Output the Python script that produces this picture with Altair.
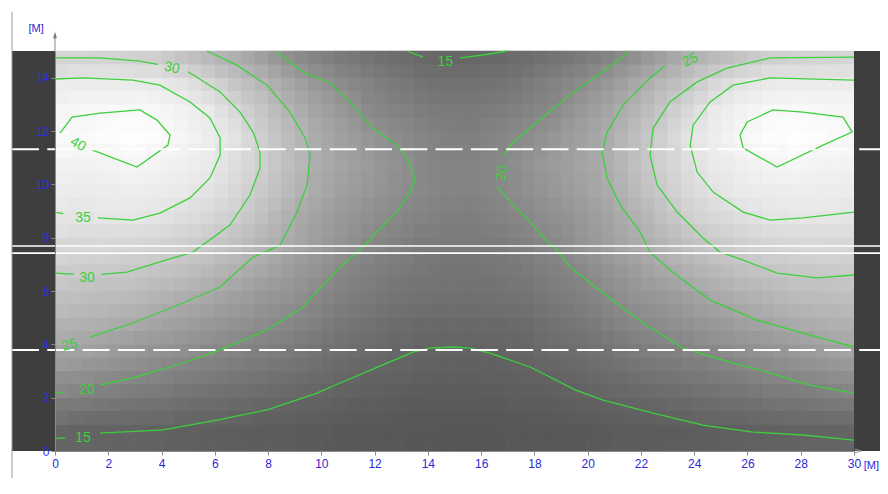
import altair as alt
import pandas as pd

# ---------------- data ----------------
# shaded field: cell values (1 m x 1 m cells, rows from y=0 upwards, columns x=0..30)
row_00 = [14.9,14.7,14.5,14.3,14.1,13.9,13.7,13.5,13.3,13.1,12.9,12.7,12.6,12.5,12.4,12.4,12.5,12.6,12.7,12.9,13.1,13.3,13.5,13.7,13.9,14.1,14.3,14.5,14.7,14.9]
row_01 = [17.8,17.4,17.1,16.8,16.4,16.0,15.6,15.2,14.8,14.4,14.0,13.7,13.4,13.2,13.1,13.1,13.2,13.4,13.7,14.0,14.4,14.8,15.2,15.6,16.0,16.4,16.8,17.1,17.4,17.8]
row_02 = [20.7,20.2,19.7,19.1,18.5,17.9,17.4,16.9,16.3,15.7,15.2,14.7,14.3,14.0,13.9,13.9,14.0,14.3,14.7,15.2,15.7,16.3,16.9,17.4,17.9,18.5,19.1,19.7,20.2,20.7]
row_03 = [23.5,22.8,22.1,21.4,20.7,19.9,19.2,18.6,17.9,17.1,16.4,15.7,15.2,14.8,14.7,14.7,14.8,15.2,15.7,16.4,17.1,17.9,18.6,19.2,19.9,20.7,21.4,22.1,22.8,23.5]
row_04 = [25.8,25.2,24.6,23.8,23.0,22.1,21.2,20.4,19.6,18.6,17.5,16.6,16.0,15.6,15.5,15.5,15.6,16.0,16.6,17.5,18.6,19.6,20.4,21.2,22.1,23.0,23.8,24.6,25.2,25.8]
row_05 = [27.8,27.5,27.0,26.3,25.3,24.3,23.2,22.2,21.1,19.9,18.7,17.8,17.1,16.7,16.5,16.5,16.7,17.1,17.8,18.7,19.9,21.1,22.2,23.2,24.3,25.3,26.3,27.0,27.5,27.8]
row_06 = [29.7,29.6,29.4,28.8,27.9,26.9,25.6,24.1,22.7,21.3,19.9,18.7,17.9,17.4,17.1,17.1,17.4,17.9,18.7,19.9,21.3,22.7,24.1,25.6,26.9,27.9,28.8,29.4,29.6,29.7]
row_07 = [31.9,32.0,31.9,31.5,30.6,29.4,27.9,26.2,24.5,22.9,21.3,19.9,18.9,18.1,17.8,17.8,18.1,18.9,19.9,21.3,22.9,24.5,26.2,27.9,29.4,30.6,31.5,31.9,32.0,31.9]
row_08 = [34.3,34.6,34.7,34.3,33.3,31.9,30.2,27.8,25.4,23.6,22.2,20.9,19.9,19.0,18.5,18.5,19.0,19.9,20.9,22.2,23.6,25.4,27.8,30.2,31.9,33.3,34.3,34.7,34.6,34.3]
row_09 = [36.3,36.6,36.9,36.7,35.6,34.0,32.0,29.5,27.0,24.8,23.3,22.0,20.8,19.8,19.1,19.1,19.8,20.8,22.0,23.3,24.8,27.0,29.5,32.0,34.0,35.6,36.7,36.9,36.6,36.3]
row_10 = [38.0,38.6,39.3,39.2,37.3,35.7,33.4,30.6,27.8,25.1,23.7,22.4,21.1,19.9,19.2,19.2,19.9,21.1,22.4,23.7,25.1,27.8,30.6,33.4,35.7,37.3,39.2,39.3,38.6,38.0]
row_11 = [40.5,41.8,42.5,41.9,39.4,36.8,34.0,30.5,27.7,25.0,23.3,21.8,20.4,19.5,18.8,18.8,19.5,20.4,21.8,23.3,25.0,27.7,30.5,34.0,36.8,39.4,41.9,42.5,41.8,40.5]
row_12 = [39.8,40.6,41.0,40.5,38.2,35.7,32.3,29.0,26.2,24.0,22.3,20.2,19.1,18.4,17.9,17.9,18.4,19.1,20.2,22.3,24.0,26.2,29.0,32.3,35.7,38.2,40.5,41.0,40.6,39.8]
row_13 = [36.6,36.7,36.6,36.0,34.5,31.8,29.1,26.6,24.4,22.2,20.3,19.0,17.9,17.0,16.7,16.7,17.0,17.9,19.0,20.3,22.2,24.4,26.6,29.1,31.8,34.5,36.0,36.6,36.7,36.6]
row_14 = [31.6,31.5,31.0,30.4,28.7,27.1,25.5,23.3,21.0,19.3,18.0,16.9,16.1,15.5,15.2,15.2,15.5,16.1,16.9,18.0,19.3,21.0,23.3,25.5,27.1,28.7,30.4,31.0,31.5,31.6]
field_rows = [row_00, row_01, row_02, row_03, row_04, row_05, row_06, row_07,
              row_08, row_09, row_10, row_11, row_12, row_13, row_14]

# contour line pieces (x, y in metres), gaps left for the labels
c15_a_x = [0.05, 0.38]; c15_a_y = [0.47, 0.49]
c15_b_x = [1.69, 4.06, 6.08, 7.96, 9.84, 10.7, 12.0, 13.44, 14.08, 14.95, 15.58, 16.33, 17.84, 19.53, 20.58, 22.46, 24.33, 26.21, 28.09, 30.0]
c15_b_y = [0.67, 0.79, 1.16, 1.54, 2.17, 2.55, 3.1, 3.71, 3.86, 3.9, 3.86, 3.67, 3.15, 2.29, 1.91, 1.42, 0.97, 0.71, 0.6, 0.41]
c15_c_x = [13.22, 13.82]; c15_c_y = [15.0, 14.77]
c15_d_x = [15.21, 16.07, 16.97]; c15_d_y = [14.74, 14.85, 15.0]
c20_a_x = [0.05, 0.4]; c20_a_y = [2.17, 2.22]
c20_b_x = [1.69, 2.93, 4.81, 6.2, 7.96, 9.31, 10.7, 11.45, 12.09, 12.84, 13.33, 13.52, 13.22, 12.84, 11.94, 11.08, 10.33, 9.31, 8.28]
c20_b_y = [2.47, 2.74, 3.3, 3.79, 4.54, 5.4, 6.9, 7.54, 8.21, 8.96, 9.71, 10.16, 10.99, 11.47, 12.11, 13.09, 13.8, 14.21, 15.0]
c20_c_x = [21.52, 21.33, 19.5, 18.85, 17.84, 17.09, 16.82]
c20_c_y = [15.0, 14.77, 13.47, 12.97, 12.11, 11.47, 11.0]
c20_d_x = [16.62, 17.09, 17.84, 18.48, 18.85, 19.34, 20.58, 22.08, 23.58, 25.08, 26.85, 28.35, 30.0]
c20_d_y = [9.9, 9.34, 8.59, 7.84, 7.54, 6.9, 5.92, 4.8, 3.86, 3.41, 2.92, 2.47, 2.17]
c25_a_x = [1.31, 2.93, 4.81, 6.2, 7.44, 8.45, 9.09, 9.46, 9.58, 9.39, 8.82, 7.96, 6.83, 5.71]
c25_a_y = [4.27, 4.8, 5.55, 6.15, 7.27, 7.72, 8.96, 9.97, 11.1, 11.74, 12.71, 13.72, 14.47, 15.0]
c25_b_x = [22.9, 22.34, 21.33, 20.73, 20.54, 20.73, 21.22, 21.97, 22.34, 23.09, 24.6, 26.36, 28.09, 30.0]
c25_b_y = [14.45, 13.99, 12.97, 11.96, 11.21, 10.24, 9.22, 8.21, 7.46, 6.79, 5.66, 4.91, 4.42, 3.9]
c30_a_x = [0.0, 1.69, 3.19, 3.85]; c30_a_y = [14.74, 14.74, 14.62, 14.5]
c30_b_x = [5.0, 6.2, 6.95, 7.44, 7.7, 7.7, 7.32, 6.57, 5.18, 3.94, 2.7, 1.75]
c30_b_y = [14.22, 13.46, 12.71, 11.96, 11.21, 10.61, 9.6, 8.47, 7.46, 7.09, 6.71, 6.62]
c30_c_x = [0.0, 0.7]; c30_c_y = [6.67, 6.63]
c30_d_x = [30.0, 26.85, 25.23, 24.11, 23.09, 22.46, 22.34, 22.61, 23.36, 24.33, 24.97, 25.84, 27.11, 28.61, 30.0]
c30_d_y = [14.77, 14.74, 14.36, 13.84, 13.09, 12.11, 11.1, 9.97, 8.96, 7.99, 7.46, 7.16, 6.67, 6.49, 6.6]
c35_a_x = [1.61, 2.93, 3.94, 5.07, 5.82, 6.2, 6.2, 5.82, 5.07, 3.94, 2.93, 1.05, 0.0]
c35_a_y = [8.74, 8.66, 8.92, 9.49, 10.24, 11.1, 11.74, 12.49, 13.09, 13.72, 13.91, 13.99, 13.95]
c35_b_x = [0.05, 0.3]; c35_b_y = [8.95, 8.9]
c35_c_x = [30.0, 26.85, 25.46, 24.6, 23.96, 23.85, 24.11, 24.71, 25.84, 26.85, 28.09, 30.0]
c35_c_y = [13.91, 13.99, 13.72, 13.09, 12.22, 11.47, 10.46, 9.71, 8.96, 8.66, 8.74, 8.96]
c40_a_x = [0.19, 0.64, 1.69, 3.19, 3.83, 4.32, 4.24, 3.08, 1.61, 1.4]
c40_a_y = [11.92, 12.52, 12.67, 12.79, 12.41, 11.85, 11.47, 10.65, 11.21, 11.28]
c40_b_x = [25.72, 25.99, 26.96, 28.09, 29.59, 29.93, 28.84, 27.11, 25.84, 25.72]
c40_b_y = [11.85, 12.34, 12.79, 12.71, 12.52, 11.96, 11.47, 10.65, 11.36, 11.85]

label_text = ["15", "15", "20", "20", "25", "25", "30", "30", "35", "40"]
label_x = [1.05, 14.65, 1.2, 16.79, 0.55, 23.85, 4.39, 1.2, 1.05, 0.86]
label_y = [0.49, 14.59, 2.29, 10.42, 3.97, 14.66, 14.36, 6.49, 8.74, 11.5]
label_angle = [0, 0, 0, 280, 345, 335, 12, 0, 0, 30]

x_ticks = [0, 2, 4, 6, 8, 10, 12, 14, 16, 18, 20, 22, 24, 26, 28, 30]
y_ticks = [0, 2, 4, 6, 8, 10, 12, 14]
dashed_y = [11.32, 3.79]
solid_y = [7.69, 7.42]

# ---------------- build tables ----------------
cells = []
for j, row in enumerate(field_rows):
    for i, v in enumerate(row):
        cells.append({"x": i, "x2": i + 1, "y": j, "y2": j + 1, "v": v})
field_df = pd.DataFrame(cells)

pieces = [(c15_a_x, c15_a_y), (c15_b_x, c15_b_y), (c15_c_x, c15_c_y), (c15_d_x, c15_d_y),
          (c20_a_x, c20_a_y), (c20_b_x, c20_b_y), (c20_c_x, c20_c_y), (c20_d_x, c20_d_y),
          (c25_a_x, c25_a_y), (c25_b_x, c25_b_y),
          (c30_a_x, c30_a_y), (c30_b_x, c30_b_y), (c30_c_x, c30_c_y), (c30_d_x, c30_d_y),
          (c35_a_x, c35_a_y), (c35_b_x, c35_b_y), (c35_c_x, c35_c_y),
          (c40_a_x, c40_a_y), (c40_b_x, c40_b_y)]
pts = []
for s, (xs_, ys_) in enumerate(pieces):
    for k, (a, b) in enumerate(zip(xs_, ys_)):
        pts.append({"x": a, "y": b, "seg": s, "k": k})
contour_df = pd.DataFrame(pts)

labels_df = pd.DataFrame({"x": label_x, "y": label_y, "t": label_text, "a": label_angle})

X_LEFT = -1.615   # left edge of the dark band
X_RIGHT = 31.3    # right edge of the dark band
bands_df = pd.DataFrame({"x": [X_LEFT, 30.0], "x2": [0.0, X_RIGHT], "y": [0.0, 0.0], "y2": [15.0, 15.0]})
dash_df = pd.DataFrame({"x": [X_LEFT] * 2, "x2": [X_RIGHT] * 2, "y": dashed_y})
solid_df = pd.DataFrame({"x": [X_LEFT] * 2, "x2": [X_RIGHT] * 2, "y": solid_y})

# ---------------- scales / axes ----------------
BLUE = "#2a2ad6"
BLUE_Y = "#2a2aff"
AXC = "#8a8a8a"
xs = alt.Scale(domain=[0, 30], nice=False, zero=False)
ys = alt.Scale(domain=[0, 15], nice=False, zero=False)
xax = alt.Axis(values=x_ticks, title=None, grid=False, domainColor=AXC, tickColor=AXC,
               tickSize=4, labelColor=BLUE, labelFont="Liberation Sans", labelFontSize=12,
               labelPadding=3, labelOverlap=False, labelFlush=False, zindex=2)
yax = alt.Axis(values=y_ticks, title=None, grid=False, domainColor=AXC, tickColor=AXC,
               tickSize=4, labelColor=BLUE_Y, labelFont="Liberation Sans", labelFontSize=12,
               labelPadding=2, labelOverlap=False, labelFlush=False, zindex=2)


def X(f="x"):
    return alt.X(f"{f}:Q", scale=xs, axis=xax)


def Y(f="y"):
    return alt.Y(f"{f}:Q", scale=ys, axis=yax)


gray = alt.Scale(domain=[12, 15, 20, 25, 30, 35, 40, 43],
                 range=["#545454", "#666666", "#8a8a8a", "#adadad", "#cdcdcd", "#e8e8e8", "#f8f8f8", "#ffffff"],
                 interpolate="rgb")

# the cell grid, drawn once opaque and then three more times, shifted by half a
# cell and semi-transparent, so the shading blends between neighbouring cells
field = alt.Chart(field_df).mark_rect(strokeWidth=0.6).encode(
    x=X(), x2="x2:Q", y=Y(), y2="y2:Q",
    color=alt.Color("v:Q", scale=gray, legend=None),
    stroke=alt.Stroke("v:Q", scale=gray, legend=None),
)
blend_layers = []
for dx, dy, op in [(0.5, 0.0, 0.5), (0.0, 0.5, 1 / 3), (0.5, 0.5, 0.25)]:
    blend_layers.append(
        alt.Chart(field_df).transform_calculate(
            sx=f"datum.x + {dx}", sx2=f"datum.x2 + {dx}",
            sy=f"datum.y + {dy}", sy2=f"datum.y2 + {dy}",
        ).mark_rect(opacity=op, clip=True).encode(
            x=X("sx"), x2="sx2:Q", y=Y("sy"), y2="sy2:Q",
            color=alt.Color("v:Q", scale=gray, legend=None),
        )
    )

bands = alt.Chart(bands_df).mark_rect(color="#3e3e3e").encode(x=X(), x2="x2:Q", y=Y(), y2="y2:Q")

dashed = alt.Chart(dash_df).mark_rule(color="white", strokeWidth=2, strokeDash=[27, 8.3]).encode(
    x=X(), x2="x2:Q", y=Y())
solid = alt.Chart(solid_df).mark_rule(color="white", strokeWidth=1.6).encode(
    x=X(), x2="x2:Q", y=Y())

contours = alt.Chart(contour_df).mark_line(color="#3cd03c", strokeWidth=1.3).encode(
    x=X(), y=Y(), detail="seg:N", order="k:Q")

clabels = alt.Chart(labels_df).mark_text(color="#3cd03c", font="Liberation Sans", fontSize=14,
                                        align="center", baseline="middle").encode(
    x=X(), y=Y(), text="t:N", angle=alt.Angle("a:Q", scale=None))

# axis extensions with arrow heads
yext_df = pd.DataFrame({"x": [0.0], "y": [15.0], "y2": [15.62]})
yext = alt.Chart(yext_df).mark_rule(color=AXC, strokeWidth=1).encode(x=X(), y=Y(), y2="y2:Q")
yarrow = alt.Chart(pd.DataFrame({"x": [0.0], "y": [15.6]})).mark_point(
    shape="M-0.6,1L0,-1L0.6,1Z", filled=True, color="#777777", size=40, opacity=1).encode(x=X(), y=Y())
xarrow = alt.Chart(pd.DataFrame({"x": [30.15], "y": [0.0]})).mark_point(
    shape="M-1,-0.6L1,0L-1,0.6", filled=False, color="#999999", size=40, strokeWidth=1, opacity=1).encode(x=X(), y=Y())

frame_df = pd.DataFrame({"x": [X_LEFT], "y": [-2.0], "y2": [16.46]})
frame = alt.Chart(frame_df).mark_rule(color="#9a9a9a", strokeWidth=1).encode(x=X(), y=Y(), y2="y2:Q")

units_df = pd.DataFrame({"x": [-0.71, 30.65], "y": [15.84, -0.58], "t": ["[M]", "[M]"]})
units = alt.Chart(units_df).mark_text(color=BLUE, font="Liberation Sans", fontSize=11,
                                      align="center", baseline="middle").encode(
    x=X(), y=Y(), text="t:N")

chart = alt.layer(field, *blend_layers, bands, contours, dashed, solid, clabels, yext, yarrow, xarrow,
                  frame, units).properties(
    width=799, height=400,
    autosize=alt.AutoSizeParams(type="none"),
    padding={"left": 47, "top": 43, "right": 26, "bottom": 27},
    background="white",
).configure_view(stroke=None)

chart.save("out.html", embed_options={"renderer": "svg", "actions": False})
